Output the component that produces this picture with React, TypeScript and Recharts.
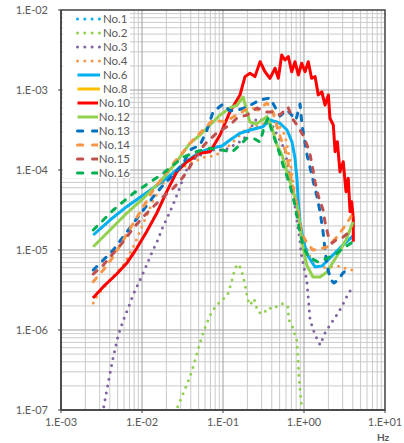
import React from 'react';
import { LineChart, Line, XAxis, YAxis, CartesianGrid, ReferenceArea } from 'recharts';

const xTicks = [0.001, 0.01, 0.1, 1, 10];
const xTickLabels = ['1.E-03', '1.E-02', '1.E-01', '1.E+00', '1.E+01'];
const yTicks = [1e-7, 1e-6, 1e-5, 1e-4, 1e-3, 1e-2];
const yTickLabels = ['1.E-07', '1.E-06', '1.E-05', '1.E-04', '1.E-03', '1.E-02'];

const xGridMajor = [0.01, 0.1, 1];
const xGridMinor = [
  0.002, 0.003, 0.004, 0.005, 0.006, 0.007, 0.008, 0.009,
  0.02, 0.03, 0.04, 0.05, 0.06, 0.07, 0.08, 0.09,
  0.2, 0.3, 0.4, 0.5, 0.6, 0.7, 0.8, 0.9,
  2, 3, 4, 5, 6, 7, 8, 9,
];
const yGridMajor = [1e-6, 1e-5, 1e-4, 1e-3];
const yGridMinor = [
  2e-7, 3e-7, 4e-7, 5e-7, 6e-7, 7e-7, 8e-7, 9e-7,
  2e-6, 3e-6, 4e-6, 5e-6, 6e-6, 7e-6, 8e-6, 9e-6,
  2e-5, 3e-5, 4e-5, 5e-5, 6e-5, 7e-5, 8e-5, 9e-5,
  2e-4, 3e-4, 4e-4, 5e-4, 6e-4, 7e-4, 8e-4, 9e-4,
  2e-3, 3e-3, 4e-3, 5e-3, 6e-3, 7e-3, 8e-3, 9e-3,
];

type P = [number, number];

const no1: P[] = [];
const no2: P[] = [
  [2.76e-2, 1.1e-7], [3.24e-2, 1.63e-7], [3.77e-2, 2.37e-7], [4.3e-2, 3.48e-7], [4.82e-2, 5.3e-7],
  [5.4e-2, 7.9e-7], [6.17e-2, 1.16e-6], [7.3e-2, 1.71e-6], [9.5e-2, 2.37e-6], [0.113, 2.66e-6],
  [0.127, 3.95e-6], [0.141, 5.96e-6], [0.156, 6.68e-6], [0.17, 5.5e-6], [0.187, 3.68e-6],
  [0.202, 2.42e-6], [0.215, 2.05e-6], [0.241, 2.46e-6], [0.27, 1.68e-6], [0.309, 1.58e-6],
  [0.366, 1.92e-6], [0.41, 1.81e-6], [0.495, 2.07e-6], [0.566, 2.16e-6], [0.634, 1.92e-6],
  [0.646, 1.38e-6], [0.686, 1.19e-6], [0.725, 1.08e-6], [0.767, 8.9e-7], [0.813, 7.65e-7],
  [0.843, 4.38e-7], [0.86, 2.88e-7], [0.894, 1.78e-7], [0.937, 1.06e-7],
];
const no3: P[] = [
  [3.37e-3, 1.1e-7], [3.91e-3, 2.46e-7], [4.42e-3, 4.64e-7], [5.1e-3, 8.66e-7], [5.88e-3, 1.33e-6],
  [6.78e-3, 1.9e-6], [7.81e-3, 2.79e-6], [9.45e-3, 4.22e-6], [1.11e-2, 6.08e-6], [1.3e-2, 8.91e-6],
  [1.55e-2, 1.3e-5], [1.8e-2, 1.92e-5], [2.17e-2, 2.88e-5], [2.53e-2, 4.13e-5], [2.94e-2, 6.08e-5],
  [3.4e-2, 9.44e-5], [4.51e-2, 1.41e-4], [6.92e-2, 1.78e-4], [0.106, 1.78e-4], [0.177, 2.37e-4],
  [0.263, 4.47e-4], [0.403, 3.65e-4], [0.582, 1.78e-4], [0.753, 4.22e-5], [0.894, 1.27e-5],
  [0.937, 8.24e-6], [1.08, 4.22e-6], [1.13, 2.51e-6], [1.19, 1.33e-6], [1.37, 8.66e-7],
  [1.58, 6.49e-7], [1.82, 9.17e-7], [2.09, 1.15e-6], [2.53, 1.54e-6], [2.92, 1.95e-6],
  [3.37, 2.61e-6], [3.77, 3.16e-6],
];
const no4: P[] = [
  [2.5e-3, 2.17e-6], [2.78e-3, 2.66e-6], [4.03e-3, 4.22e-6], [5.88e-3, 6.49e-6], [6.78e-3, 8.24e-6],
  [7.81e-3, 1.1e-5], [9.02e-3, 1.54e-5], [1.04e-2, 2.16e-5], [1.2e-2, 3.01e-5], [1.38e-2, 4.22e-5],
  [1.59e-2, 5.36e-5], [1.83e-2, 6.82e-5], [2.55e-2, 9.44e-5], [3.91e-2, 1.22e-4], [6.0e-2, 1.45e-4],
  [7.96e-2, 1.5e-4], [0.122, 2.05e-4], [0.187, 3.16e-4], [0.287, 3.65e-4], [0.439, 4.22e-4],
  [0.582, 2.74e-4], [0.671, 1.33e-4], [0.774, 4.87e-5], [0.894, 2.05e-5], [1.03, 1.15e-5],
  [1.26, 7.08e-6], [1.58, 5.96e-6], [2.09, 6.13e-6], [2.78, 6.31e-6], [3.4, 5.79e-6], [3.91, 5.62e-6],
];
const no6: P[] = [
  [2.5e-3, 1.54e-5], [4.03e-3, 2.37e-5], [6.47e-3, 3.48e-5], [1.04e-2, 4.87e-5], [1.67e-2, 6.82e-5],
  [2.68e-2, 1.0e-4], [3.73e-2, 1.33e-4], [5.2e-2, 1.68e-4], [7.31e-2, 1.88e-4], [9.72e-2, 2.0e-4],
  [0.122, 2.37e-4], [0.162, 2.88e-4], [0.215, 3.16e-4], [0.312, 3.48e-4], [0.38, 4.22e-4],
  [0.506, 3.84e-4], [0.617, 3.16e-4], [0.711, 2.24e-4], [0.774, 1.41e-4], [0.82, 7.5e-5],
  [0.855, 3.65e-5], [0.894, 2.24e-5], [0.972, 1.33e-5], [1.12, 8.41e-6], [1.37, 6.13e-6],
  [1.67, 6.31e-6], [2.09, 7.94e-6], [2.78, 1.06e-5], [4.03, 1.5e-5],
];
const no8: P[] = [];
const no10: P[] = [
  [2.48e-3, 2.51e-6], [3.33e-3, 3.48e-6], [4.87e-3, 5.01e-6], [6.47e-3, 6.82e-6], [8.61e-3, 1.05e-5],
  [1.14e-2, 1.69e-5], [1.52e-2, 2.88e-5], [2.02e-2, 5.36e-5], [2.68e-2, 9.44e-5], [3.56e-2, 1.26e-4],
  [5.2e-2, 1.62e-4], [6.92e-2, 1.69e-4], [9.19e-2, 2.74e-4], [0.122, 5.36e-4], [0.162, 8.66e-4],
  [0.187, 1.47e-3], [0.215, 1.62e-3], [0.248, 1.47e-3], [0.287, 2.26e-3], [0.33, 1.69e-3],
  [0.38, 1.4e-3], [0.439, 1.87e-3], [0.482, 1.4e-3], [0.531, 2.74e-3], [0.582, 2.37e-3],
  [0.64, 2.61e-3], [0.705, 1.69e-3], [0.774, 2.26e-3], [0.851, 1.54e-3], [0.937, 2.16e-3],
  [1.03, 1.69e-3], [1.13, 2.26e-3], [1.24, 1.4e-3], [1.37, 1.47e-3], [1.5, 8.66e-4],
  [1.66, 9.5e-4], [1.82, 6.49e-4], [2.0, 8.66e-4], [2.09, 4.43e-4], [2.3, 3.65e-4],
  [2.42, 1.69e-4], [2.58, 2.26e-4], [2.78, 9.5e-5], [3.05, 1.27e-4], [3.3, 5.36e-5],
  [3.52, 7.87e-5], [3.7, 3.01e-5], [3.88, 4.02e-5], [4.06, 2.49e-5], [4.06, 1.27e-5],
];
const no12: P[] = [
  [2.5e-3, 1.1e-5], [4.03e-3, 1.78e-5], [6.47e-3, 2.88e-5], [1.04e-2, 4.43e-5], [1.67e-2, 7.14e-5],
  [2.68e-2, 1.27e-4], [3.91e-2, 2.16e-4], [5.2e-2, 2.74e-4], [6.92e-2, 3.65e-4], [9.19e-2, 4.87e-4],
  [0.122, 5.96e-4], [0.149, 6.49e-4], [0.177, 8.18e-4], [0.198, 5.31e-4], [0.215, 3.98e-4],
  [0.255, 3.76e-4], [0.294, 4.1e-4], [0.349, 4.64e-4], [0.403, 3.35e-4], [0.464, 2.05e-4],
  [0.535, 1.54e-4], [0.617, 9.44e-5], [0.711, 5.96e-5], [0.82, 3.65e-5], [0.894, 2.05e-5],
  [0.944, 1.26e-5], [1.08, 6.49e-6], [1.29, 4.6e-6], [1.58, 4.6e-6], [1.92, 5.31e-6],
  [2.55, 8.41e-6], [3.3, 1.33e-5], [4.03, 2.24e-5],
];
const no13: P[] = [
  [2.5e-3, 5.62e-6], [3.33e-3, 7.5e-6], [4.42e-3, 1.0e-5], [5.88e-3, 1.47e-5], [7.81e-3, 2.16e-5],
  [1.04e-2, 3.16e-5], [1.38e-2, 4.64e-5], [1.83e-2, 6.49e-5], [2.43e-2, 8.66e-5], [3.24e-2, 1.21e-4],
  [3.91e-2, 1.78e-4], [5.2e-2, 2.05e-4], [6.34e-2, 3.16e-4], [7.53e-2, 5.31e-4], [0.1, 6.68e-4],
  [0.122, 5.47e-4], [0.153, 5.62e-4], [0.198, 6.13e-4], [0.287, 7.5e-4], [0.38, 7.94e-4],
  [0.506, 4.73e-4], [0.617, 5.62e-4], [0.796, 4.22e-4], [0.894, 6.68e-4], [0.944, 3.65e-4],
  [1.09, 1.54e-4], [1.19, 1.06e-4], [1.29, 7.5e-5], [1.45, 4.6e-5], [1.58, 2.99e-5],
  [1.72, 1.68e-5], [1.82, 1.0e-5], [1.92, 6.31e-6], [2.15, 4.22e-6], [2.34, 3.87e-6],
  [2.63, 4.22e-6], [3.03, 5.16e-6], [3.7, 6.13e-6],
];
const no14: P[] = [
  [2.5e-3, 4.02e-6], [3.33e-3, 5.62e-6], [4.42e-3, 8.24e-6], [5.88e-3, 1.33e-5], [7.81e-3, 2.16e-5],
  [1.04e-2, 3.48e-5], [1.38e-2, 5.62e-5], [1.83e-2, 8.24e-5], [2.43e-2, 1.21e-4], [3.24e-2, 1.69e-4],
  [3.91e-2, 2.16e-4], [5.2e-2, 2.9e-4], [7.53e-2, 4.22e-4], [0.106, 3.98e-4], [0.133, 4.6e-4],
  [0.172, 5.31e-4], [0.215, 6.13e-4], [0.27, 5.62e-4], [0.349, 6.88e-4], [0.414, 5.31e-4],
  [0.477, 3.16e-4], [0.535, 2.24e-4], [0.6, 1.68e-4], [0.653, 1.09e-4], [0.711, 6.88e-5],
  [0.774, 4.6e-5], [0.843, 3.16e-5], [0.894, 2.0e-5], [0.972, 1.5e-5], [1.09, 1.22e-5],
  [1.29, 1.0e-5], [1.58, 1.03e-5], [1.92, 1.09e-5], [2.55, 1.45e-5], [3.4, 2.17e-5], [4.03, 2.9e-5],
];
const no15: P[] = [
  [2.5e-3, 5.01e-6], [3.33e-3, 6.49e-6], [4.42e-3, 9.1e-6], [5.88e-3, 1.27e-5], [7.81e-3, 1.87e-5],
  [1.04e-2, 2.61e-5], [1.38e-2, 3.48e-5], [1.83e-2, 4.64e-5], [2.43e-2, 5.9e-5], [3.24e-2, 8.24e-5],
  [3.91e-2, 1.1e-4], [5.2e-2, 1.78e-4], [6.34e-2, 2.24e-4], [8.67e-2, 2.99e-4], [0.122, 3.65e-4],
  [0.149, 4.47e-4], [0.198, 4.87e-4], [0.263, 5.96e-4], [0.349, 5.31e-4], [0.414, 5.31e-4],
  [0.506, 4.87e-4], [0.634, 6.13e-4], [0.711, 4.47e-4], [0.82, 3.65e-4], [0.972, 2.74e-4],
  [1.09, 2.05e-4], [1.19, 1.54e-4], [1.26, 1.15e-4], [1.37, 7.08e-5], [1.49, 4.87e-5],
  [1.72, 3.16e-5], [1.82, 2.24e-5], [1.98, 1.54e-5], [2.22, 1.22e-5], [2.48, 1.33e-5],
  [3.03, 1.45e-5], [3.91, 1.78e-5],
];
const no16: P[] = [
  [2.5e-3, 1.78e-5], [3.33e-3, 2.37e-5], [4.42e-3, 3.16e-5], [5.88e-3, 4.02e-5], [7.81e-3, 5.11e-5],
  [1.04e-2, 6.18e-5], [1.38e-2, 7.5e-5], [1.83e-2, 9.1e-5], [2.43e-2, 1.15e-4], [3.24e-2, 1.45e-4],
  [4.51e-2, 1.68e-4], [6.92e-2, 1.87e-4], [9.72e-2, 1.78e-4], [0.129, 1.68e-4], [0.162, 2.05e-4],
  [0.196, 2.49e-4], [0.237, 2.49e-4], [0.287, 2.24e-4], [0.33, 3.76e-4], [0.362, 4.47e-4],
  [0.403, 2.99e-4], [0.464, 2.05e-4], [0.551, 1.15e-4], [0.671, 6.49e-5], [0.774, 3.65e-5],
  [0.894, 1.63e-5], [0.98, 1.1e-5], [1.13, 8.24e-6], [1.49, 7.08e-6], [1.92, 7.87e-6],
  [2.55, 9.1e-6], [3.2, 1.09e-5], [4.03, 1.27e-5],
];

type Style = 'dot' | 'dash' | 'solid';
const series: { name: string; color: string; style: Style; pts: P[] }[] = [
  { name: 'No.1', color: '#00B0F0', style: 'dot', pts: no1 },
  { name: 'No.2', color: '#92D050', style: 'dot', pts: no2 },
  { name: 'No.3', color: '#8064A2', style: 'dot', pts: no3 },
  { name: 'No.4', color: '#F79646', style: 'dot', pts: no4 },
  { name: 'No.6', color: '#00B0F0', style: 'solid', pts: no6 },
  { name: 'No.8', color: '#FFC000', style: 'solid', pts: no8 },
  { name: 'No.10', color: '#FF0000', style: 'solid', pts: no10 },
  { name: 'No.12', color: '#92D050', style: 'solid', pts: no12 },
  { name: 'No.13', color: '#0070C0', style: 'dash', pts: no13 },
  { name: 'No.14', color: '#F79646', style: 'dash', pts: no14 },
  { name: 'No.15', color: '#C0504D', style: 'dash', pts: no15 },
  { name: 'No.16', color: '#00B050', style: 'dash', pts: no16 },
];

const dashFor = (s: Style) => (s === 'dot' ? '0 7' : s === 'dash' ? '5 8' : undefined);
const legendDashFor = (s: Style) => (s === 'dot' ? '0 7.3' : s === 'dash' ? '5.3 9.7' : undefined);

const FONT = 'Lato, "Noto Sans", sans-serif';
const TXT = '#595959';

export default function App() {
  return (
    <div style={{ position: 'absolute', left: 0, top: 0, width: 404, height: 443, background: '#fff', fontFamily: FONT }}>
      <LineChart width={404} height={443} margin={{ top: 10, right: 19, bottom: 8, left: 5 }}>
        <CartesianGrid
          stroke="#cacaca"
          strokeWidth={1}
          verticalValues={xGridMinor}
          horizontalValues={yGridMinor}
        />
        <CartesianGrid
          stroke="#a0a0a0"
          strokeWidth={1}
          verticalValues={xGridMajor}
          horizontalValues={yGridMajor}
        />
        <XAxis
          dataKey="x"
          type="number"
          scale="log"
          domain={[0.001, 10]}
          allowDataOverflow
          ticks={xTicks}
          tickFormatter={(_v: number, i: number) => xTickLabels[i]}
          height={25}
          tickSize={3}
          tickMargin={5}
          axisLine={{ stroke: '#404040', strokeWidth: 1.5 }}
          tickLine={{ stroke: '#404040' }}
          tick={{ fill: TXT, fontSize: 11, fontFamily: FONT }}
          interval={0}
        />
        <YAxis
          dataKey="y"
          type="number"
          scale="log"
          domain={[1e-7, 1e-2]}
          allowDataOverflow
          ticks={yTicks}
          tickFormatter={(_v: number, i: number) => yTickLabels[i]}
          width={56}
          tickSize={3}
          tickMargin={10}
          axisLine={{ stroke: '#404040', strokeWidth: 1.5 }}
          tickLine={{ stroke: '#404040' }}
          tick={{ fill: TXT, fontSize: 11, fontFamily: FONT }}
          interval={0}
        />
        {series
          .filter((s) => s.pts.length > 0)
          .map((s) => (
            <Line
              key={s.name}
              name={s.name}
              data={s.pts.map(([x, y]) => ({ x, y }))}
              dataKey="y"
              type="linear"
              stroke={s.color}
              strokeWidth={3}
              strokeDasharray={dashFor(s.style)}
              strokeLinecap={s.style === 'solid' ? 'butt' : 'round'}
              strokeLinejoin="round"
              dot={false}
              activeDot={false}
              isAnimationActive={false}
            />
          ))}
        <ReferenceArea
          x1={0.001}
          x2={10}
          y1={1e-7}
          y2={1e-2}
          fill="none"
          stroke="#404040"
          strokeWidth={1.5}
          ifOverflow="visible"
        />
      </LineChart>
      <div
        style={{
          position: 'absolute',
          left: 63,
          top: 11,
          width: 67,
          height: 167,
          background: '#fff',
          paddingTop: 1,
          boxSizing: 'border-box',
        }}
      >
        {series.map((s) => (
          <div key={s.name} style={{ display: 'flex', alignItems: 'center', height: 14, paddingLeft: 13 }}>
            <svg width={26} height={14} style={{ display: 'block' }}>
              <line
                x1={1.5}
                x2={24}
                y1={7}
                y2={7}
                stroke={s.color}
                strokeWidth={3}
                strokeDasharray={legendDashFor(s.style)}
                strokeLinecap={s.style === 'solid' ? 'butt' : 'round'}
              />
            </svg>
            <span style={{ fontSize: 11.5, color: TXT, marginLeft: 1, lineHeight: '14px' }}>{s.name}</span>
          </div>
        ))}
      </div>
      <div
        style={{
          position: 'absolute',
          left: 377,
          top: 431,
          fontSize: 10,
          fontWeight: 'bold',
          color: TXT,
          lineHeight: '12px',
        }}
      >
        Hz
      </div>
    </div>
  );
}
